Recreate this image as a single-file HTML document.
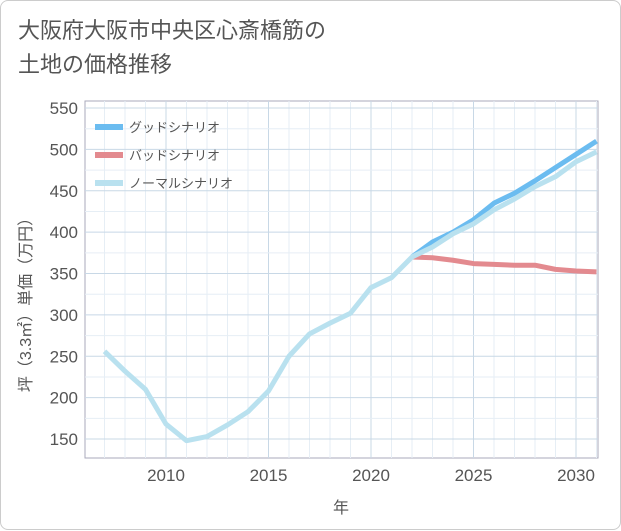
<!DOCTYPE html>
<html><head><meta charset="utf-8"><style>
body{margin:0;background:#fff;font-family:"Liberation Sans","Noto Sans CJK JP",sans-serif;}
#card{position:absolute;left:0;top:0;width:619px;height:528px;border:1px solid #ccc;border-radius:8px;background:#fff;}
#title{position:absolute;left:17px;top:13px;font-size:22px;line-height:34px;color:#555;}
</style></head><body>
<div id="card">
<div id="title">大阪府大阪市中央区心斎橋筋の<br>土地の価格推移</div>
<svg id="chart" width="621" height="530" style="position:absolute;left:0;top:0"></svg>
</div>
<script>
const years=[2007,2008,2009,2010,2011,2012,2013,2014,2015,2016,2017,2018,2019,2020,2021,2022,2023,2024,2025,2026,2027,2028,2029,2030,2031];
const normalVals=[256,232,210,168,148,153,167,183,208,250,277,290,302,333,345,370,382,398,410,427,440,455,467,485,497];
const futureYears=[2022,2023,2024,2025,2026,2027,2028,2029,2030,2031];
const goodVals=[370,388,400,415,435,447,462,478,494,510];
const badVals=[370,369,366,362,361,360,360,355,353,352];
const yTicks=[150,200,250,300,350,400,450,500,550];
const xTicks=[2010,2015,2020,2025,2030];
const legendLabels=["グッドシナリオ","バッドシナリオ","ノーマルシナリオ"];
const colors=["#6bbcf0","#e38a8f","#b9e1ef"];

const L=84,R=597,T=100,B=457;
const x=v=>165+(v-2010)*20.5;
const y=v=>438-(v-150)*(331/400);
const NS="http://www.w3.org/2000/svg";
const svg=document.getElementById('chart');
function mk(tag,attrs){const e=document.createElementNS(NS,tag);for(const k in attrs)e.setAttribute(k,attrs[k]);svg.appendChild(e);return e;}
const bg=mk('rect',{x:L,y:T,width:R-L,height:B-T,fill:'#fff',stroke:'#aab',"stroke-width":1});


for(let yr=2007;yr<=2031;yr++){const g=mk('line',{x1:x(yr),x2:x(yr),y1:T,y2:B,stroke:xTicks.includes(yr)?'#c8d8e6':'#e6eef5','stroke-width':1});

}
for(let v=125;v<=550;v+=25){if(y(v)<T||y(v)>B)continue;const g=mk('line',{x1:L,x2:R,y1:y(v),y2:y(v),stroke:v%50===0?'#c8d8e6':'#e6eef5','stroke-width':1});

}
yTicks.forEach(v=>{const t=mk('text',{x:77,y:y(v)+6,'text-anchor':'end','font-size':17,fill:'#555'});t.textContent=v;

});
xTicks.forEach(v=>{const t=mk('text',{x:x(v),y:480,'text-anchor':'middle','font-size':17,fill:'#555'});t.textContent=v;

});
const xt=mk('text',{x:340,y:512,'text-anchor':'middle','font-size':16,fill:'#555'});xt.textContent='年';


const yt=mk('text',{x:0,y:0,'text-anchor':'middle','font-size':16,fill:'#555',transform:'translate(30,300) rotate(-90)'});yt.textContent='坪（3.3㎡）単価（万円）';


const cp=mk('clipPath',{id:'cp'});const cr=document.createElementNS(NS,'rect');cr.setAttribute('x',L);cr.setAttribute('y',T);cr.setAttribute('width',R-L);cr.setAttribute('height',B-T);cp.appendChild(cr);
function line(xs,vs,c,name){const p=mk('polyline',{points:xs.map((a,i)=>x(a)+','+y(vs[i])).join(' '),fill:'none',stroke:c,'stroke-width':5,'stroke-linejoin':'round','clip-path':'url(#cp)'});

}
line(futureYears,goodVals,colors[0],'good-scenario-line');
line(futureYears,badVals,colors[1],'bad-scenario-line');
line(years,normalVals,colors[2],'normal-scenario-line');
legendLabels.forEach((lab,i)=>{const yy=126+i*28;
const s=mk('line',{x1:94,x2:122,y1:yy,y2:yy,stroke:colors[i],'stroke-width':6});


const t=mk('text',{x:128,y:yy+5,'font-size':13,fill:'#555'});t.textContent=lab;

});
</script>
</body></html>
